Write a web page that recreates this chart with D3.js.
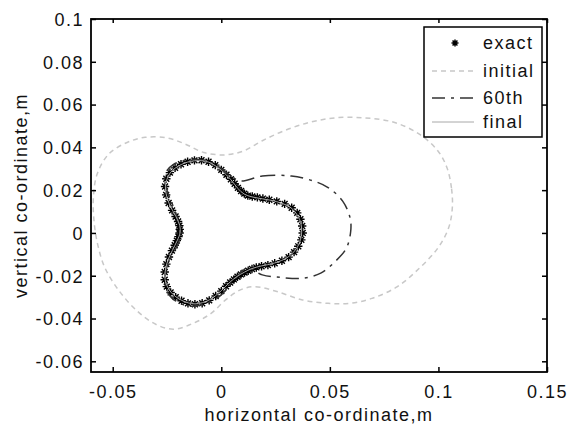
<!DOCTYPE html>
<html>
<head>
<meta charset="utf-8">
<script src="https://cdn.jsdelivr.net/npm/d3@7"></script>
<style>
  body { margin: 0; background: #fff; }
  text { font-family: "Liberation Sans", Arial, sans-serif; font-size: 18px; letter-spacing: 1.5px; fill: #111; }
</style>
</head>
<body>
<svg id="chart" width="569" height="428"></svg>
<script>
// axis ticks
const xTicks = [-0.05, 0, 0.05, 0.1, 0.15];
const yTicks = [0.1, 0.08, 0.06, 0.04, 0.02, 0, -0.02, -0.04, -0.06];

// exact shape, read as radius (m) at angle (deg) around the origin
const exactTheta = [0, 5, 10, 15, 20, 25, 30, 35, 40, 45, 50, 55, 60, 65, 70, 75, 80, 85,
  90, 95, 100, 105, 110, 115, 120, 125, 130, 135, 140, 145, 150, 155, 160, 165, 170, 175,
  180, 185, 190, 195, 200, 205, 210, 215, 220, 225, 230, 235, 240, 245, 250, 255, 260, 265,
  270, 275, 280, 285, 290, 295, 300, 305, 310, 315, 320, 325, 330, 335, 340, 345, 350, 355];
const exactR = [0.0375, 0.0374, 0.0370, 0.0362, 0.0345, 0.0322, 0.0295, 0.0270, 0.0250, 0.0235, 0.0222, 0.0213,
  0.0212, 0.0216, 0.0224, 0.0238, 0.0255, 0.0273, 0.0295, 0.0318, 0.0338, 0.0352, 0.0361, 0.0367,
  0.0371, 0.0371, 0.0368, 0.0358, 0.0338, 0.0310, 0.0280, 0.0250, 0.0224, 0.0206, 0.0196, 0.0192,
  0.0192, 0.0198, 0.0208, 0.0222, 0.0242, 0.0266, 0.0292, 0.0318, 0.0340, 0.0355, 0.0363, 0.0366,
  0.0366, 0.0363, 0.0355, 0.0340, 0.0320, 0.0296, 0.0272, 0.0250, 0.0235, 0.0225, 0.0218, 0.0214,
  0.0214, 0.0216, 0.0220, 0.0228, 0.0242, 0.0262, 0.0284, 0.0308, 0.0330, 0.0347, 0.0360, 0.0370];

// final shape
const finalTheta = [0, 10, 20, 30, 40, 50, 60, 70, 80, 90, 100, 110, 120, 130, 140, 150, 160, 170,
  180, 190, 200, 210, 220, 230, 240, 250, 260, 270, 280, 290, 300, 310, 320, 330, 340, 350];
const finalR = [0.0370, 0.0366, 0.0342, 0.0293, 0.0248, 0.0220, 0.0210, 0.0222, 0.0253, 0.0293, 0.0336, 0.0359,
  0.0369, 0.0366, 0.0336, 0.0278, 0.0222, 0.0194, 0.0190, 0.0206, 0.0240, 0.0290, 0.0338, 0.0361,
  0.0364, 0.0353, 0.0318, 0.0270, 0.0233, 0.0216, 0.0212, 0.0218, 0.0240, 0.0282, 0.0328, 0.0358];

// initial guess
const initialX = [0.1064, 0.1060, 0.1039, 0.0997, 0.0912, 0.0795, 0.0660, 0.0525, 0.0407, 0.0290, 0.0189,
  0.0104, 0.0020, -0.0081, -0.0165, -0.0249, -0.0350, -0.0434, -0.0519, -0.0572, -0.0589, -0.0586,
  -0.0569, -0.0535, -0.0468, -0.0384, -0.0300, -0.0219, -0.0131, -0.0047, 0.0020, 0.0088, 0.0155,
  0.0256, 0.0374, 0.0492, 0.0593, 0.0694, 0.0811, 0.0912, 0.0997, 0.1047];
const initialY = [0.0118, 0.0210, 0.0306, 0.0384, 0.0462, 0.0517, 0.0538, 0.0538, 0.0517, 0.0478, 0.0431,
  0.0384, 0.0365, 0.0376, 0.0415, 0.0444, 0.0447, 0.0423, 0.0368, 0.0274, 0.0165, 0.0055,
  -0.0055, -0.0165, -0.0274, -0.0368, -0.0428, -0.0450, -0.0423, -0.0376, -0.0313, -0.0266, -0.0251,
  -0.0274, -0.0313, -0.0329, -0.0329, -0.0306, -0.0251, -0.0165, -0.0071, 0.0024];

// 60th iteration
const iter60X = [0.0088, 0.0189, 0.0323, 0.0424, 0.0492, 0.0559, 0.0593, 0.0596, 0.0576, 0.0525, 0.0458,
  0.0374, 0.0273, 0.0189, 0.0121, 0.0050, 0.0000, -0.0070, -0.0160, -0.0240, -0.0260, -0.0230,
  -0.0195, -0.0195, -0.0220, -0.0250, -0.0260, -0.0220, -0.0120, -0.0030, 0.0040];
const iter60Y = [0.0243, 0.0266, 0.0266, 0.0243, 0.0212, 0.0149, 0.0071, 0.0008, -0.0071, -0.0133, -0.0188,
  -0.0212, -0.0208, -0.0196, -0.0165, -0.0230, -0.0290, -0.0330, -0.0340, -0.0290, -0.0200, -0.0110,
  -0.0040, 0.0040, 0.0120, 0.0200, 0.0270, 0.0320, 0.0345, 0.0320, 0.0270];

const legendLabels = ["exact", "initial", "60th", "final"];

const pLeft = 91, pRight = 547, pTop = 19, pBottom = 372;
const svg = d3.select("#chart");

const x = d3.scaleLinear().domain([-0.06, 0.15]).range([pLeft, pRight]);
const y = d3.scaleLinear().domain([-0.065, 0.1]).range([pBottom, pTop]);

const fmt = d => d === 0 ? "0" : String(+d.toFixed(3));

svg.append("defs").append("clipPath").attr("id", "plotClip")
  .append("rect").attr("x", pLeft).attr("y", pTop)
  .attr("width", pRight - pLeft).attr("height", pBottom - pTop);

const plot = svg.append("g").attr("clip-path", "url(#plotClip)");

const polar = (th, r) => th.map((t, i) => [r[i] * Math.cos(t * Math.PI / 180), r[i] * Math.sin(t * Math.PI / 180)]);
const exactPts = polar(exactTheta, exactR);
const finalPts = polar(finalTheta, finalR);
const initialPts = initialX.map((v, i) => [v, initialY[i]]);
const iter60Pts = iter60X.map((v, i) => [v, iter60Y[i]]);

const line = d3.line().x(d => x(d[0])).y(d => y(d[1])).curve(d3.curveCatmullRomClosed);

const star = s => {
  const a = s * 0.7;
  return `M${-s},0H${s}M0,${-s}V${s}M${-a},${-a}L${a},${a}M${-a},${a}L${a},${-a}`;
};

// exact markers
plot.append("g").selectAll("path")
  .data(exactPts)
  .join("path")
  .attr("transform", d => `translate(${x(d[0])},${y(d[1])})`)
  .attr("d", star(4.2))
  .attr("fill", "none")
  .attr("stroke", "#000")
  .attr("stroke-width", 1.4);

plot.append("path")
  .datum(initialPts)
  .attr("d", line)
  .attr("fill", "none")
  .attr("stroke", "#c8c8c8")
  .attr("stroke-width", 1.5)
  .attr("stroke-dasharray", "5,4");

plot.append("path")
  .datum(iter60Pts)
  .attr("d", line)
  .attr("fill", "none")
  .attr("stroke", "#333")
  .attr("stroke-width", 1.5)
  .attr("stroke-dasharray", "13,6,3,6");

plot.append("path")
  .datum(finalPts)
  .attr("d", line)
  .attr("fill", "none")
  .attr("stroke", "#a8a8a8")
  .attr("stroke-width", 1);

// axes, MATLAB style ticks inside on all four sides
const axB = svg.append("g").attr("transform", `translate(0,${pBottom})`)
  .call(d3.axisBottom(x).tickValues(xTicks).tickSizeInner(-5).tickSizeOuter(0).tickPadding(13).tickFormat(fmt));
const axT = svg.append("g").attr("transform", `translate(0,${pTop})`)
  .call(d3.axisTop(x).tickValues(xTicks).tickSizeInner(-4).tickSizeOuter(0).tickFormat(""));
const axL = svg.append("g").attr("transform", `translate(${pLeft},0)`)
  .call(d3.axisLeft(y).tickValues(yTicks).tickSizeInner(-5).tickSizeOuter(0).tickPadding(7).tickFormat(fmt));
const axR = svg.append("g").attr("transform", `translate(${pRight},0)`)
  .call(d3.axisRight(y).tickValues(yTicks).tickSizeInner(-5).tickSizeOuter(0).tickFormat(""));

[axB, axT, axL, axR].forEach(g => {
  g.select(".domain").remove();
  g.selectAll("line").attr("stroke", "#000").attr("stroke-width", 1.5);
  g.selectAll("text").attr("fill", "#111").attr("font-size", null).attr("font-family", null);
});
axL.selectAll("text").attr("dy", "0.35em");

svg.append("rect")
  .attr("x", pLeft).attr("y", pTop)
  .attr("width", pRight - pLeft).attr("height", pBottom - pTop)
  .attr("fill", "none").attr("stroke", "#000").attr("stroke-width", 1.8);

svg.append("text")
  .attr("x", (pLeft + pRight) / 2).attr("y", 421)
  .attr("text-anchor", "middle")
  .text("horizontal co-ordinate,m");

svg.append("text")
  .attr("transform", `translate(27,${(pTop + pBottom) / 2}) rotate(-90)`)
  .attr("text-anchor", "middle")
  .text("vertical co-ordinate,m");

// legend
const legend = svg.append("g");
legend.append("rect")
  .attr("x", 424).attr("y", 27).attr("width", 118).attr("height", 110)
  .attr("fill", "#fff").attr("stroke", "#000").attr("stroke-width", 1.5);

const rowY = [43, 71, 98, 122];
legend.append("path")
  .attr("transform", `translate(455,${rowY[0]})`)
  .attr("d", star(3.5)).attr("stroke", "#000").attr("stroke-width", 1.5).attr("fill", "none");
legend.append("line").attr("x1", 432).attr("x2", 474).attr("y1", rowY[1]).attr("y2", rowY[1])
  .attr("stroke", "#c8c8c8").attr("stroke-width", 1.5).attr("stroke-dasharray", "5,4");
legend.append("line").attr("x1", 432).attr("x2", 474).attr("y1", rowY[2]).attr("y2", rowY[2])
  .attr("stroke", "#333").attr("stroke-width", 1.5).attr("stroke-dasharray", "13,6,3,6");
legend.append("line").attr("x1", 432).attr("x2", 474).attr("y1", rowY[3]).attr("y2", rowY[3])
  .attr("stroke", "#a8a8a8").attr("stroke-width", 1);

legend.selectAll("text.lab")
  .data(legendLabels)
  .join("text")
  .attr("class", "lab")
  .attr("x", 483)
  .attr("y", (d, i) => rowY[i] + 6)
  .text(d => d);
</script>
</body>
</html>
